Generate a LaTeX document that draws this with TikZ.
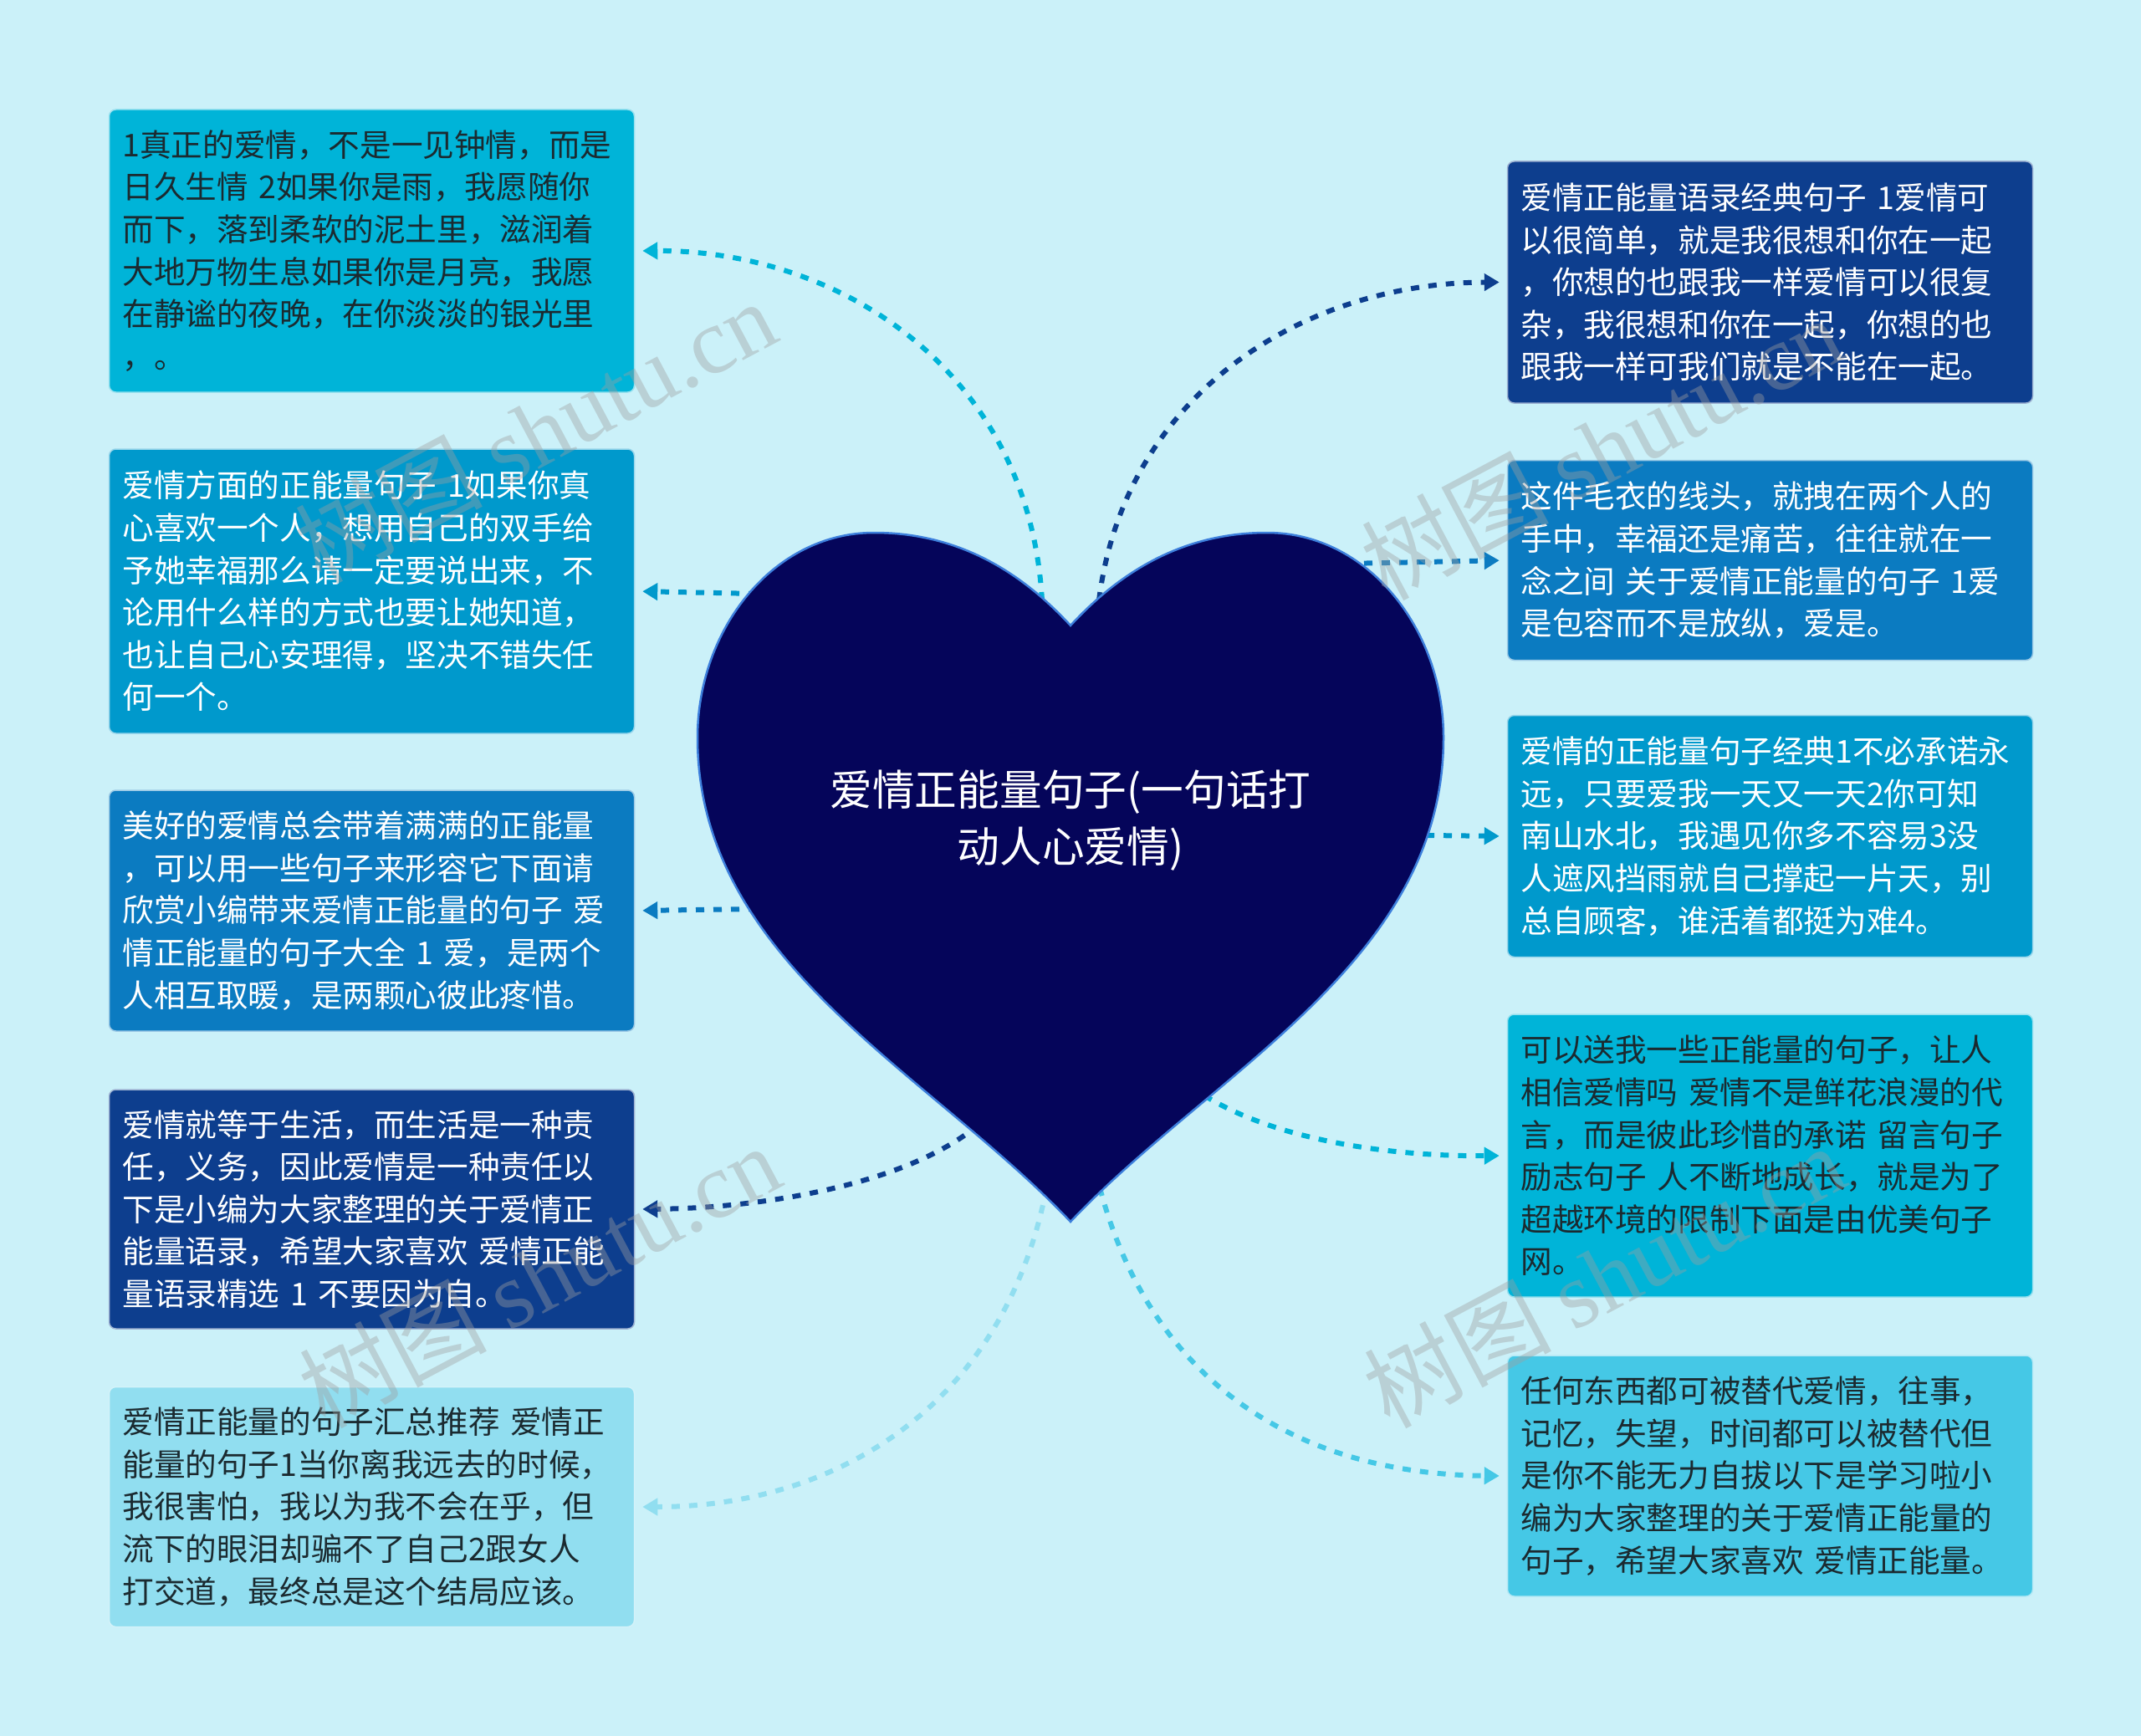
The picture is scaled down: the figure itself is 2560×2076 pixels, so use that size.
\documentclass[tikz,border=0pt]{standalone}
\usepackage{fontspec}
\setmainfont{Noto Sans CJK SC}
\newfontfamily\wmserif{Liberation Serif}
\usetikzlibrary{arrows.meta}
\definecolor{bg}{HTML}{CBF1F9}
\definecolor{cA}{HTML}{00B4D8}
\definecolor{cB}{HTML}{0099CC}
\definecolor{cC}{HTML}{0B7BC1}
\definecolor{cD}{HTML}{0D3E8E}
\definecolor{cE}{HTML}{91DEF0}
\definecolor{cF}{HTML}{45C8E6}
\definecolor{darktext}{HTML}{1B2A30}
\definecolor{heartfill}{HTML}{05055A}
\definecolor{heartline}{HTML}{3D7FDC}
\tikzset{
  box/.style={rounded corners=8pt, draw=white!60!#1, line width=1.5pt, fill=#1,
    minimum width=628pt, text width=596pt, inner xsep=16pt, inner ysep=12pt, align=left,
    font=\fontsize{37.6pt}{50.6pt}\selectfont},
  conn/.style={draw=#1, line width=6pt, dash pattern=on 10pt off 11pt,
    -{Triangle[length=18pt,width=20pt,fill=#1]}, shorten >=9pt},
  wm/.style={text=gray!75, opacity=0.4, rotate=28, font=\fontsize{112pt}{112pt}\selectfont}
}
\begin{document}
\begin{tikzpicture}[x=1pt,y=-1pt]
\fill[bg] (0,0) rectangle (2560,2076);
\useasboundingbox (0,0) rectangle (2560,2076);

% left boxes
\node[box=cA, text=darktext, minimum height=338pt] (L1) at (444.5,300) {1真正的爱情，不是一见钟情，而是\\
日久生情 2如果你是雨，我愿随你\\
而下，落到柔软的泥土里，滋润着\\
大地万物生息如果你是月亮，我愿\\
在静谧的夜晚，在你淡淡的银光里\\
，。};
\node[box=cB, text=white, minimum height=340pt] (L2) at (444.5,707) {爱情方面的正能量句子 1如果你真\\
心喜欢一个人，想用自己的双手给\\
予她幸福那么请一定要说出来，不\\
论用什么样的方式也要让她知道，\\
也让自己心安理得，坚决不错失任\\
何一个。};
\node[box=cC, text=white, minimum height=288pt] (L3) at (444.5,1089) {美好的爱情总会带着满满的正能量\\
，可以用一些句子来形容它下面请\\
欣赏小编带来爱情正能量的句子 爱\\
情正能量的句子大全 1 爱，是两个\\
人相互取暖，是两颗心彼此疼惜。};
\node[box=cD, text=white, minimum height=286pt] (L4) at (444.5,1446) {爱情就等于生活，而生活是一种责\\
任，义务，因此爱情是一种责任以\\
下是小编为大家整理的关于爱情正\\
能量语录，希望大家喜欢 爱情正能\\
量语录精选 1 不要因为自。};
\node[box=cE, text=darktext, minimum height=287pt] (L5) at (444.5,1802) {爱情正能量的句子汇总推荐 爱情正\\
能量的句子1当你离我远去的时候，\\
我很害怕，我以为我不会在乎，但\\
流下的眼泪却骗不了自己2跟女人\\
打交道，最终总是这个结局应该。};

% right boxes
\node[box=cD, text=white, minimum height=289pt] (R1) at (2116.5,337.5) {爱情正能量语录经典句子 1爱情可\\
以很简单，就是我很想和你在一起\\
，你想的也跟我一样爱情可以很复\\
杂，我很想和你在一起，你想的也\\
跟我一样可我们就是不能在一起。};
\node[box=cC, text=white, minimum height=239pt] (R2) at (2116.5,670) {这件毛衣的线头，就拽在两个人的\\
手中，幸福还是痛苦，往往就在一\\
念之间 关于爱情正能量的句子 1爱\\
是包容而不是放纵，爱是。};
\node[box=cB, text=white, minimum height=289pt] (R3) at (2116.5,1000) {爱情的正能量句子经典1不必承诺永\\
远，只要爱我一天又一天2你可知\\
南山水北，我遇见你多不容易3没\\
人遮风挡雨就自己撑起一片天，别\\
总自顾客，谁活着都挺为难4。};
\node[box=cA, text=darktext, minimum height=338pt] (R4) at (2116.5,1382) {可以送我一些正能量的句子，让人\\
相信爱情吗 爱情不是鲜花浪漫的代\\
言，而是彼此珍惜的承诺 留言句子\\
励志句子 人不断地成长，就是为了\\
超越环境的限制下面是由优美句子\\
网。};
\node[box=cF, text=darktext, minimum height=288pt] (R5) at (2116.5,1765) {任何东西都可被替代爱情，往事，\\
记忆，失望，时间都可以被替代但\\
是你不能无力自拔以下是学习啦小\\
编为大家整理的关于爱情正能量的\\
句子，希望大家喜欢 爱情正能量。};

% connector start points (on / just inside the heart)
\coordinate (s1) at (1246,718);
\coordinate (s2) at (905,710);
\coordinate (s3) at (905,1087);
\coordinate (s4) at (1170,1345);
\coordinate (s5) at (1255,1400);
\coordinate (t1) at (1314,718);
\coordinate (t2) at (1610,674);
\coordinate (t3) at (1705,999);
\coordinate (t4) at (1440,1310);
\coordinate (t5) at (1310,1400);

\draw[conn=cA] (s1) .. controls (1230,440) and (1000,299) .. (L1.east);
\draw[conn=cB] (s2) -- (L2.east);
\draw[conn=cC] (s3) -- (L3.east);
\draw[conn=cD] (s4) .. controls (1080,1420) and (900,1445) .. (L4.east);
\draw[conn=cE] (s5) .. controls (1210,1680) and (1000,1802) .. (L5.east);
\draw[conn=cD] (t1) .. controls (1345,470) and (1560,338) .. (R1.west);
\draw[conn=cC] (t2) -- (R2.west);
\draw[conn=cB] (t3) -- (R3.west);
\draw[conn=cA] (t4) .. controls (1520,1360) and (1650,1383) .. (R4.west);
\draw[conn=cF] (t5) .. controls (1370,1660) and (1560,1763) .. (R5.west);

% heart
\draw[fill=heartfill, draw=heartline, line width=2.5pt]
  (1280,748) .. controls (1220,683) and (1145,637) .. (1045,637)
  .. controls (925,637) and (834,752) .. (834,882)
  .. controls (834,1150) and (1110,1281) .. (1280,1461)
  .. controls (1450,1281) and (1726,1150) .. (1726,882)
  .. controls (1726,752) and (1635,637) .. (1515,637)
  .. controls (1415,637) and (1340,683) .. (1280,748) -- cycle;
\node[text=white, align=center, font=\fontsize{50.7pt}{68.6pt}\selectfont] (title) at (1280,981) {爱情正能量句子(一句话打\\动人心爱情)};

% watermarks
\node[wm] (w1) at (640,515) {树图 {\wmserif shutu.cn}};
\node[wm] (w2) at (645,1525) {树图 {\wmserif shutu.cn}};
\node[wm] (w3) at (1915,535) {树图 {\wmserif shutu.cn}};
\node[wm] (w4) at (1918,1525) {树图 {\wmserif shutu.cn}};
\end{tikzpicture}
\end{document}
